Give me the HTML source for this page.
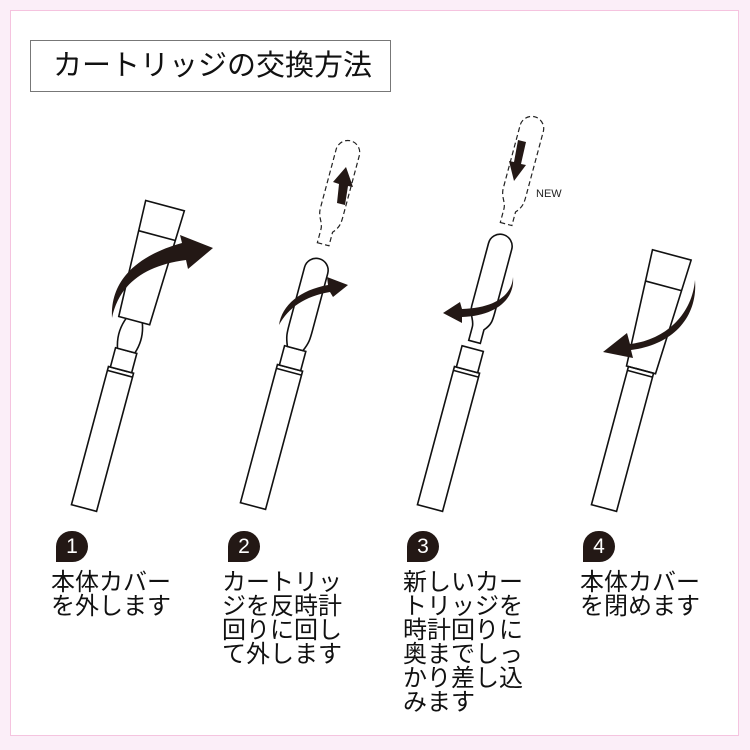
<!DOCTYPE html>
<html><head><meta charset="utf-8"><style>
html,body{margin:0;padding:0}
body{width:750px;height:750px;background:#fbeef8;position:relative;overflow:hidden;font-family:"Liberation Sans","Noto Sans CJK JP",sans-serif}
.inner{position:absolute;left:10px;top:10px;width:729px;height:726px;background:#fff;border:1px solid #f5c3df;box-sizing:border-box}
.title{position:absolute;left:30px;top:40px;width:361px;height:52px;border:1.5px solid #777;box-sizing:border-box;font-size:29px;line-height:50px;padding-left:22px;color:#111;white-space:nowrap}
.lab{position:absolute;top:571px;font-size:24px;line-height:24px;color:#111;white-space:nowrap}
.badge{position:absolute;top:531px;width:32px;height:31px;background:#231815;border-radius:16px 16px 16px 0;color:#fff;font-size:21px;line-height:31px;text-align:center}
svg{position:absolute;left:0;top:0}
</style></head><body>
<div class="inner"></div>
<div class="title">カートリッジの交換方法</div>
<svg width="750" height="750" viewBox="0 0 750 750">
<defs>
<g id="body" fill="#fff" stroke="#111" stroke-width="1.6">
<rect x="-13" y="-143" width="26" height="143"/>
<line x1="-13" y1="-139" x2="13" y2="-139"/>
</g>
</defs>
<g transform="translate(84,508) rotate(15)">
<use href="#body"/>
<g fill="#fff" stroke="#111" stroke-width="1.6">
<rect x="-11" y="-163" width="22" height="20"/>
<path d="M-9,-163 C-13,-175 -12,-185 -8,-195 L8,-195 C12,-185 13,-175 9,-163 Z"/>
<polygon points="-16,-194 16,-194 20,-313 -20,-313"/>
<line x1="-19" y1="-282" x2="19" y2="-282"/>
</g>
</g>
<path d="M112,318 C110,282 135,256 182,243 L180,235 L213,248 L188,269 L186,260 C140,266 118,288 112,318 Z" fill="#231815"/>
<g transform="translate(253,506) rotate(15)">
<use href="#body"/>
<g fill="#fff" stroke="#111" stroke-width="1.6">
<rect x="-11" y="-163" width="22" height="20"/>
<path d="M-8,-163 C-12,-172 -12,-176 -12,-185 L-12,-244 A12,12 0 0 1 12,-244 L12,-185 C12,-176 12,-172 8,-163 Z"/>
</g>
<g fill="none" stroke="#222" stroke-width="1.2" stroke-dasharray="5,3">
<path d="M-6,-271 L6,-271 L6,-285 C12,-292 12,-296 12,-305 L12,-366 A12,12 0 0 0 -12,-366 L-12,-305 C-12,-296 -6,-292 -6,-285 Z"/>
</g>
</g>
<path d="M279,325 C282,305 300,290 328,285 L327,277 L348,285 L333,297 L330,292 C305,296 288,308 279,325 Z" fill="#231815"/>
<polygon points="337,203 345,205 348,186 353,187 346,167 333,182 339,184" fill="#231815"/>
<g transform="translate(430,508) rotate(15)">
<use href="#body"/>
<g fill="#fff" stroke="#111" stroke-width="1.6">
<rect x="-11" y="-165" width="22" height="22"/>
<path d="M-6,-172 L6,-172 L6,-186 C12,-193 12,-197 12,-206 L12,-271 A12,12 0 0 0 -12,-271 L-12,-206 C-12,-197 -6,-193 -6,-186 Z"/>
</g>
<g fill="none" stroke="#222" stroke-width="1.2" stroke-dasharray="5,3">
<path d="M-6,-294 L6,-294 L6,-308 C12,-315 12,-319 12,-328 L12,-393 A12,12 0 0 0 -12,-393 L-12,-328 C-12,-319 -6,-315 -6,-308 Z"/>
</g>
</g>
<path d="M513,277 C512,295 495,308 462,309 L460,302 L443,313 L462,323 L462,317 C495,316 515,300 513,277 Z" fill="#231815"/>
<polygon points="518,140 526,142 521,164 526,165 514,181 509,161 514,162" fill="#231815"/>
<text x="536" y="197" font-size="11" fill="#222" font-family="Liberation Sans, sans-serif">NEW</text>
<g transform="translate(604,508) rotate(15)">
<use href="#body"/>
<g fill="#fff" stroke="#111" stroke-width="1.6">
<polygon points="-15,-143 15,-143 20,-262 -20,-262" fill="none"/>
<line x1="-19" y1="-230" x2="19" y2="-230"/>
</g>
</g>
<path d="M695,280 C692,315 665,340 630,344 L627,333 L603,352 L633,358 L631,350 C672,345 698,318 695,280 Z" fill="#231815"/>
</svg>
<div class="badge" style="left:56px">1</div>
<div class="badge" style="left:228px">2</div>
<div class="badge" style="left:407px">3</div>
<div class="badge" style="left:583px">4</div>
<div class="lab" style="left:51px">本体カバー<br>を外します</div>
<div class="lab" style="left:222px">カートリッ<br>ジを反時計<br>回りに回し<br>て外します</div>
<div class="lab" style="left:403px">新しいカー<br>トリッジを<br>時計回りに<br>奥までしっ<br>かり差し込<br>みます</div>
<div class="lab" style="left:580px">本体カバー<br>を閉めます</div>
</body></html>
